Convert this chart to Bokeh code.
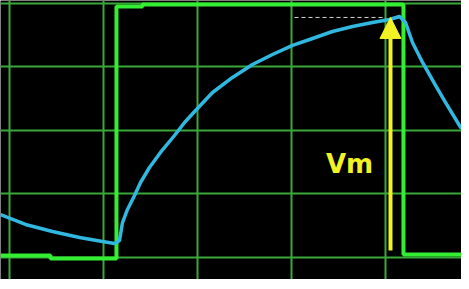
from bokeh.plotting import figure
from bokeh.models import Range1d, Grid, FixedTicker, Arrow, NormalHead
from bokeh.core.properties import value
from bokeh.embed import file_html
from bokeh.resources import INLINE

# Oscilloscope readings in screen divisions
grid_t = [0, 1, 2, 3, 4]
grid_v = [0, 1, 2, 3, 4]

# square-wave input
square_t = [-0.096, 0.436, 0.436, 1.138, 1.138, 1.415, 1.415, 4.191, 4.191, 4.809]
square_v = [0.031, 0.031, -0.016, -0.016, 3.953, 3.953, 3.984, 3.984, 0.047, 0.047]

# capacitor voltage (cyan trace)
trace_t = [-0.096, 0.170, 0.457, 0.745, 0.989, 1.117,
           1.138, 1.170, 1.202, 1.255, 1.330, 1.394, 1.489, 1.606, 1.755,
           1.862, 1.979, 2.160, 2.372, 2.585, 2.798, 3.011, 3.223, 3.436,
           3.649, 3.862, 4.043, 4.149,
           4.213, 4.287, 4.394, 4.532, 4.638, 4.787, 4.809]
trace_v = [0.677, 0.520, 0.409, 0.315, 0.252, 0.220,
           0.236, 0.268, 0.551, 0.756, 0.976, 1.181, 1.417, 1.654, 1.921,
           2.126, 2.315, 2.598, 2.835, 3.039, 3.197, 3.339, 3.449, 3.559,
           3.638, 3.701, 3.748, 3.795,
           3.701, 3.386, 3.071, 2.709, 2.441, 2.079, 2.031]

# Vm marker
vm_t = 4.053
vm_base = 0.110
vm_peak = 3.78
dash_t = [3.032, 4.0]
label_t = 3.617
label_v = 1.465
label_text = ["Vm"]

p = figure(width=461, height=279, output_backend="svg", toolbar_location=None,
           x_range=Range1d(-0.0957, 4.8085), y_range=Range1d(-0.3465, 4.047),
           x_axis_type=None, y_axis_type=None, min_border=0,
           background_fill_color="black", border_fill_color="white",
           outline_line_color=None)

grid_color = "#3aa83a"
p.add_layout(Grid(dimension=0, ticker=FixedTicker(ticks=grid_t),
                  grid_line_color=grid_color, grid_line_width=2))
p.add_layout(Grid(dimension=1, ticker=FixedTicker(ticks=grid_v),
                  grid_line_color=grid_color, grid_line_width=2))

p.line(square_t, square_v, line_color="#33ee33", line_width=4)
p.line(trace_t, trace_v, line_color="#30b8e0", line_width=3.5, line_join="round")
p.line(dash_t, [vm_peak, vm_peak], line_color="#d8d8d8", line_width=1, line_dash="4 3")

yellow = "#f2f224"
p.add_layout(Arrow(x_start=vm_t, y_start=vm_base, x_end=vm_t, y_end=vm_peak,
                   line_color=yellow, line_width=4,
                   end=NormalHead(size=21, fill_color=yellow, line_color=yellow)))

p.text(x=[label_t], y=[label_v], text=label_text, text_color=yellow,
       text_font=value("DejaVu Sans"), text_font_style="bold",
       text_font_size="26px", text_align="center", text_baseline="middle")

open("out.html", "w").write(file_html(p, INLINE))
